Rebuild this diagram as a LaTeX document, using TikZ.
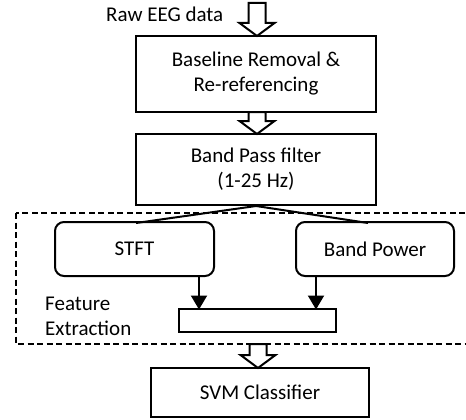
\documentclass[tikz,border=0pt]{standalone}
\usepackage{fontspec}
\setmainfont{Carlito}
\usetikzlibrary{arrows.meta}
\begin{document}
\begin{tikzpicture}[x=1pt,y=-1pt,
  txt/.style={font=\fontsize{21}{25}\selectfont},
  box/.style={draw,line width=2pt,rectangle,align=center,txt},
  rbox/.style={box,rounded corners=9pt},
  plain/.style={line width=2pt},
  hollowline/.style={draw,fill=white,line width=2pt,line join=miter},
  dashedbox/.style={draw,line width=1.8pt,dash pattern=on 6pt off 3.5pt},
  lbl/.style={txt,inner sep=0pt},
  pics/hollow/.style={code={
    \draw[hollowline] (-8.5,-#1) -- (8.5,-#1) -- (8.5,-13) -- (17.5,-13) -- (0,0)
       -- (-17.5,-13) -- (-8.5,-13) -- cycle;}}
]
\useasboundingbox (0,0) rectangle (466,420);
% dashed feature extraction frame
\draw[dashedbox] (16,213) rectangle (480,344);
% boxes
\node[box,minimum width=240pt,minimum height=76pt] (b1) at (256,74) {Baseline Removal \&\\Re-referencing};
\node[box,minimum width=240pt,minimum height=71pt] (b2) at (256,169.5) {Band Pass filter\\(1-25 Hz)};
\node[rbox,minimum width=159pt,minimum height=54pt] (stft) at (134.5,249) {STFT};
\node[rbox,minimum width=158pt,minimum height=54pt] (bp) at (375,249) {Band Power};
\node[box,minimum width=157pt,minimum height=23pt] (fv) at (257.5,320.5) {};
\node[box,minimum width=218pt,minimum height=49pt] (svm) at (260,392.5) {SVM Classifier};
% labels
\node[lbl,anchor=west] (raw) at (106,14) {Raw EEG data};
\node[lbl,anchor=west,align=left] (fe) at (45,316) {Feature\\Extraction};
% hollow arrows
\coordinate (t1) at (257,36);
\coordinate (t2) at (257,134);
\coordinate (t3) at (258,368);
\pic at (t1) {hollow=33};
\pic at (t2) {hollow=22};
\pic at (t3) {hollow=24};
% splitting lines
\draw[plain] (b2.south) -- (136,223);
\draw[plain] (b2.south) -- (368,223);
% arrows into feature box
\draw[plain,-{Triangle[width=16pt,length=14pt]}] (199,276) -- (199,309.5);
\draw[plain,-{Triangle[width=16pt,length=14pt]}] (316,276) -- (316,309.5);
\end{tikzpicture}
\end{document}
